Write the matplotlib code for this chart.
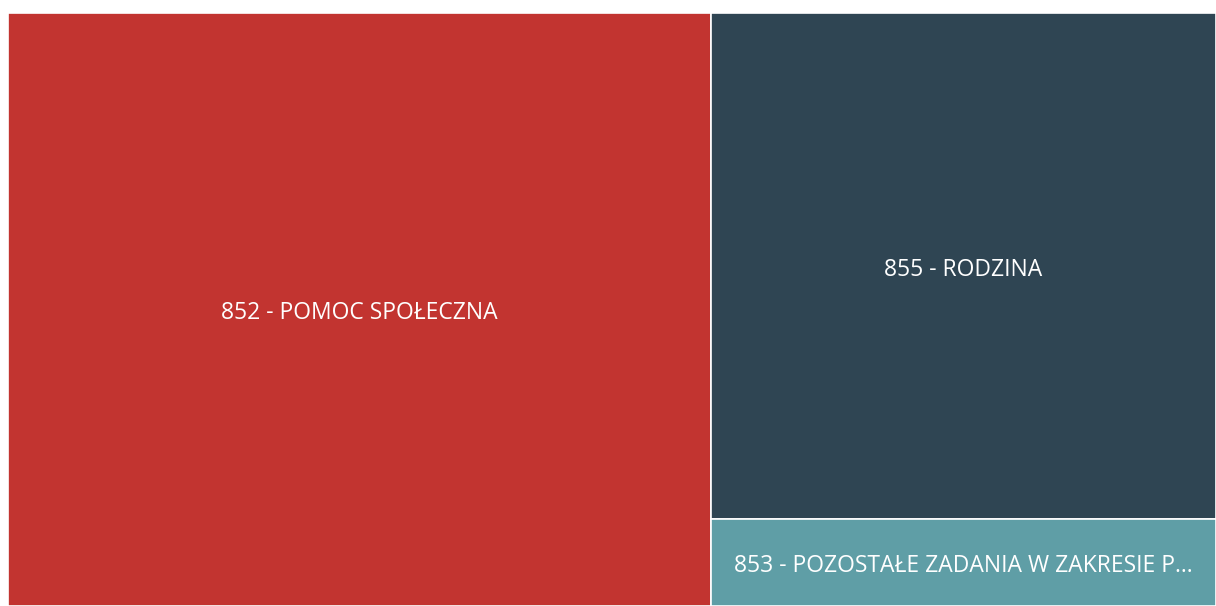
import matplotlib
matplotlib.use("Agg")
import matplotlib.pyplot as plt
from matplotlib.patches import Rectangle

labels = ["852 - POMOC SPOŁECZNA", "855 - RODZINA", "853 - POZOSTAŁE ZADANIA W ZAKRESIE P..."]
values = [58.2, 35.7, 6.1]
colors = ["#C23430", "#2F4553", "#5F9EA6"]

W, H = 1.0, 1.0
fig = plt.figure(figsize=(12.16, 6.06), dpi=100)
ax = fig.add_axes([8 / 1216, 0, 1208 / 1216, 593 / 606])
ax.set_xlim(0, W)
ax.set_ylim(0, H)
ax.axis("off")

total = sum(values)
# pierwsze pole zajmuje całą wysokość, reszta ułożona pionowo po prawej
w0 = W * values[0] / total
rects = [(0, 0, w0, H)]
rest = sum(values[1:])
y = H
for v in values[1:]:
    h = H * v / rest
    rects.append((w0, y - h, W - w0, h))
    y -= h

for (x0, y0, w, h), lab, c in zip(rects, labels, colors):
    ax.add_patch(Rectangle((x0, y0), w, h, facecolor=c, edgecolor="white", lw=1.2))
    ax.text(x0 + w / 2, y0 + h / 2 - 0.006, lab, ha="center", va="center", color="white",
            fontsize=16.5, family="Open Sans")

fig.savefig("out.png", dpi=100)
